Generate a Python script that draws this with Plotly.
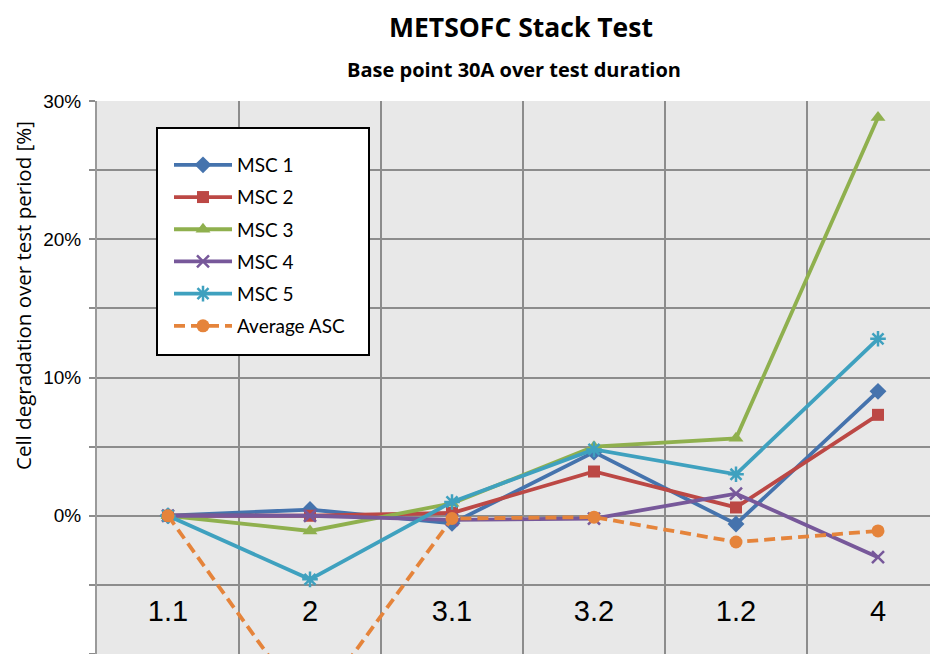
import plotly.graph_objects as go

categories = ["1.1", "2", "3.1", "3.2", "1.2", "4"]
msc1 = [0.0, 0.45, -0.55, 4.6, -0.6, 9.0]
msc2 = [0.0, 0.0, 0.2, 3.2, 0.6, 7.3]
msc3 = [0.0, -1.1, 0.9, 5.0, 5.6, 28.8]
msc4 = [0.0, 0.0, -0.3, -0.2, 1.6, -3.0]
msc5 = [0.0, -4.6, 1.0, 4.8, 3.0, 12.8]
avg_asc = [0.0, -14.3, -0.2, -0.1, -1.9, -1.1]

series_names = ["MSC 1", "MSC 2", "MSC 3", "MSC 4", "MSC 5", "Average ASC"]
series_values = [msc1, msc2, msc3, msc4, msc5, avg_asc]
colors = ["#4573AD", "#BC4845", "#8FB04E", "#77589A", "#3FA1BF", "#E5843B"]
symbols = ["diamond", "square", "triangle-up", "x-thin-open", "asterisk-open", "circle"]
sizes = [13, 12, 13, 12, 13, 13]
dashes = ["solid", "solid", "solid", "solid", "solid", "11px,6px"]

ytick_vals = [-10, -5, 0, 5, 10, 15, 20, 25, 30]
ytick_text = ["-10%", "", "0%", "", "10%", "", "20%", "", "30%"]

OFF = 8  # page body margin
W, H = 938 - OFF, 654 - OFF
L, R, T, B = 97 - OFF, 0, 101 - OFF, 0
pw, ph = W - L - R, H - T - B


def px(x):
    return (x - OFF - L) / pw


def py(y):
    return (H - B - (y - OFF)) / ph


fig = go.Figure()
for i, (name, vals) in enumerate(zip(series_names, series_values)):
    fig.add_trace(go.Scatter(
        x=categories, y=vals, name=name, mode="lines+markers",
        legendgroup=name,
        line=dict(color=colors[i], width=3.8, dash=dashes[i]),
        marker=dict(symbol=symbols[i], size=sizes[i], color=colors[i],
                    line=dict(color=colors[i], width=2.5 if i in (3, 4) else 0)),
    ))

grid = "#8C8C8C"
fig.update_layout(
    width=W, height=H,
    margin=dict(l=L, r=R, t=T, b=B, pad=0),
    paper_bgcolor="white",
    plot_bgcolor="#E8E8E8",
    showlegend=True,
    legend=dict(
        x=px(169), y=py(146), xanchor="left", yanchor="top",
        bgcolor="rgba(0,0,0,0)", borderwidth=0,
        font=dict(family="Lato", size=19, color="black"),
        tracegroupgap=4.5, itemwidth=58,
    ),
    xaxis=dict(
        type="category", categoryorder="array", categoryarray=categories,
        range=[-0.5, -0.5 + pw / 142.0],
        tickson="boundaries", showgrid=True, gridcolor=grid, gridwidth=2,
        anchor="free", position=0.125, showline=False, ticks="",
        tickfont=dict(family="Liberation Sans", size=29, color="black"),
        ticklabelstandoff=6,
        zeroline=False,
    ),
    yaxis=dict(
        range=[-10, 30], tickvals=ytick_vals, ticktext=ytick_text,
        showgrid=True, gridcolor=grid, gridwidth=2,
        showline=True, linecolor="#9A9A9A", linewidth=2,
        ticks="outside", ticklen=6, tickcolor=grid, tickwidth=2,
        tickfont=dict(family="Liberation Sans", size=19, color="black"),
        ticklabelstandoff=4,
        zeroline=False,
    ),
    shapes=[dict(type="rect", xref="paper", yref="paper",
                 x0=px(157), x1=px(369), y0=py(355), y1=py(128),
                 fillcolor="white", line=dict(color="black", width=2),
                 layer="above")],
    annotations=[
        dict(text="<b>METSOFC Stack Test</b>", xref="paper", yref="paper",
             x=px(521), y=py(27), xanchor="center", yanchor="middle", showarrow=False,
             borderpad=0,
             font=dict(family="Open Sans", size=26.5, color="black")),
        dict(text="<b>Base point 30A over test duration</b>", xref="paper", yref="paper",
             x=px(514), y=py(69), xanchor="center", yanchor="middle", showarrow=False,
             font=dict(family="Open Sans", size=20, color="black")),
        dict(text="Cell degradation over test period [%]", xref="paper", yref="paper",
             x=px(23), y=py(296), xanchor="center", yanchor="middle", showarrow=False,
             textangle=-90,
             font=dict(family="Open Sans", size=20.5, color="black")),
    ],
)

fig.write_html("out.html")
